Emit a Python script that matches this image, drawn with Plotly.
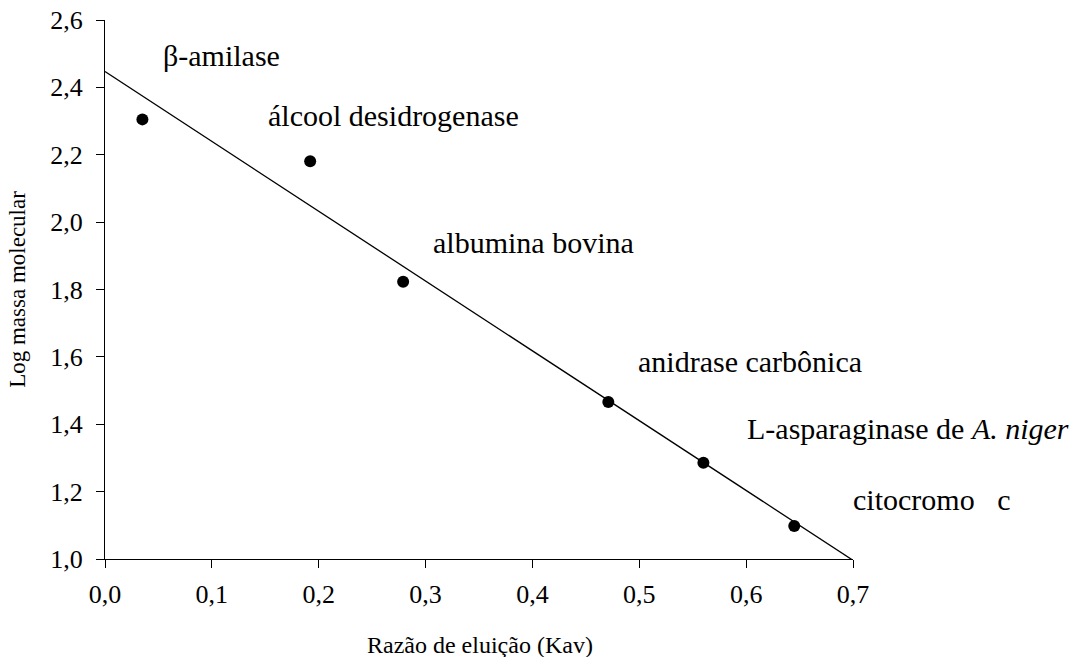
import numpy as np
import plotly.graph_objects as go

# Data
kav = [0.035, 0.192, 0.279, 0.471, 0.560, 0.645]
log_mw = [2.305, 2.181, 1.823, 1.466, 1.286, 1.098]
proteins = ["β-amilase", "álcool desidrogenase", "albumina bovina",
            "anidrase carbônica", "L-asparaginase de <i>A. niger</i>",
            "citocromo\u00a0\u00a0\u00a0c"]
x_ticks = [0.0, 0.1, 0.2, 0.3, 0.4, 0.5, 0.6, 0.7]
x_tick_text = ["0,0", "0,1", "0,2", "0,3", "0,4", "0,5", "0,6", "0,7"]
y_ticks = [1.0, 1.2, 1.4, 1.6, 1.8, 2.0, 2.2, 2.4, 2.6]
y_tick_text = ["1,0", "1,2", "1,4", "1,6", "1,8", "2,0", "2,2", "2,4", "2,6"]

# Linear regression trendline, drawn across the x range
slope, intercept = np.polyfit(kav, log_mw, 1)
fit_x = np.array([x_ticks[0], x_ticks[-1]])
fit_y = slope * fit_x + intercept

# Label positions (layout, paper fractions of the plot area)
label_pos = [(0.0745, 0.935), (0.2148, 0.8237), (0.4354, 0.5863),
             (0.7094, 0.3673), (0.8551, 0.2430), (0.9970, 0.1095)]

FONT = "Liberation Serif, Times New Roman, serif"

fig = go.Figure()
fig.add_trace(go.Scatter(x=fit_x, y=fit_y, mode="lines",
                         line=dict(color="black", width=1.3),
                         hoverinfo="skip", showlegend=False, cliponaxis=False))
fig.add_trace(go.Scatter(x=kav, y=log_mw, mode="markers",
                         marker=dict(color="black", size=12),
                         showlegend=False, cliponaxis=False))

for name, (lx, ly) in zip(proteins, label_pos):
    fig.add_annotation(x=lx, y=ly, xref="paper", yref="paper", text=name,
                       showarrow=False, xanchor="left", yanchor="middle",
                       font=dict(family=FONT, size=30, color="black"))

fig.add_annotation(x=0.501, y=-0.1596, xref="paper", yref="paper",
                   text="Razão de eluição (Kav)", showarrow=False,
                   xanchor="center", yanchor="middle",
                   font=dict(family=FONT, size=24, color="black"))

fig.update_layout(
    width=1079, height=657,
    margin=dict(l=105, r=226, t=20, b=98),
    paper_bgcolor="white", plot_bgcolor="white",
    font=dict(family=FONT, color="black"),
    showlegend=False,
)
fig.update_xaxes(range=[0, 0.7], tickvals=x_ticks, ticktext=x_tick_text,
                 automargin=False,
                 showgrid=False, zeroline=False, showline=True, linecolor="black",
                 linewidth=1.3, ticks="outside", ticklen=8, tickwidth=1.3,
                 tickcolor="black", tickfont=dict(family=FONT, size=26),
                 ticklabelstandoff=4)
fig.update_yaxes(range=[1.0, 2.6], tickvals=y_ticks, ticktext=y_tick_text,
                 automargin=False,
                 showgrid=False, zeroline=False, showline=True, linecolor="black",
                 linewidth=1.3, ticks="outside", ticklen=8, tickwidth=1.3,
                 tickcolor="black", tickfont=dict(family=FONT, size=26),
                 ticklabelstandoff=8,
                 title=dict(text="Log massa molecular",
                            font=dict(family=FONT, size=23), standoff=18))

fig.write_html("out.html")
